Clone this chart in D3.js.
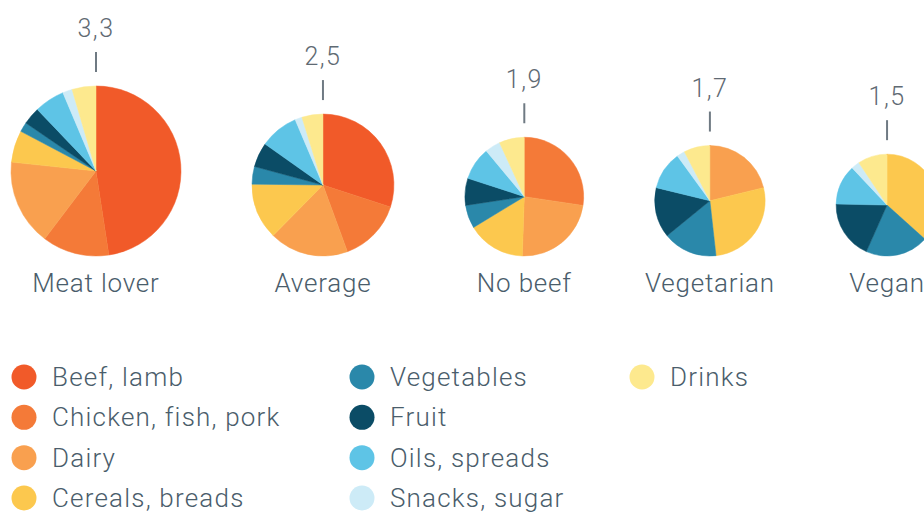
<!DOCTYPE html>
<html>
<head>
<meta charset="utf-8">
<script src="https://cdn.jsdelivr.net/npm/d3@7"></script>
<style>
  body { margin: 0; background: #fff; }
  svg { display: block; font-family: Roboto, "Noto Sans", sans-serif; }
</style>
</head>
<body>
<div id="chart"></div>
<script>
// diets and their footprint (t CO2e per person per year)
const diets = ["Meat lover", "Average", "No beef", "Vegetarian", "Vegan"];
const totals = [3.3, 2.5, 1.9, 1.7, 1.5];
const totalLabels = ["3,3", "2,5", "1,9", "1,7", "1,5"];

// food categories, one array of values per category (one value per diet)
const categories = ["Beef, lamb", "Chicken, fish, pork", "Dairy", "Cereals, breads",
  "Vegetables", "Fruit", "Oils, spreads", "Snacks, sugar", "Drinks"];
const beefLamb = [1.57, 0.75, 0, 0, 0];
const chickenFishPork = [0.42, 0.36, 0.52, 0, 0];
const dairy = [0.54, 0.45, 0.44, 0.36, 0];
const cerealsBreads = [0.2, 0.32, 0.3, 0.46, 0.55];
const vegetables = [0.06, 0.1, 0.12, 0.27, 0.3];
const fruit = [0.11, 0.14, 0.14, 0.25, 0.28];
const oilsSpreads = [0.19, 0.22, 0.17, 0.19, 0.19];
const snacksSugar = [0.06, 0.04, 0.08, 0.04, 0.04];
const drinks = [0.15, 0.12, 0.13, 0.13, 0.14];
const series = [beefLamb, chickenFishPork, dairy, cerealsBreads, vegetables,
  fruit, oilsSpreads, snacksSugar, drinks];

const colors = ["#f15a29", "#f47a38", "#f9a04f", "#fcc84e", "#2a88aa",
  "#0b4c66", "#5ec4e6", "#cdebf7", "#fde98e"];

const width = 924, height = 515;
const baseY = 256;   // pies sit on a common bottom line
const gap = 71;      // space between neighbouring pies
const textColor = "#4a5d6b";

const svg = d3.select("#chart").append("svg")
  .attr("width", width)
  .attr("height", height);

const color = d3.scaleOrdinal().domain(categories).range(colors);
const radius = d3.scalePow().exponent(0.65).domain([0, 3.3]).range([0, 85]);

// horizontal placement: pies packed with a constant gap
let edge = 11;
const layout = diets.map((d, i) => {
  const r = radius(totals[i]);
  const cx = edge + r;
  edge = cx + r + gap;
  return { diet: d, i: i, r: r, cx: cx, cy: baseY - r };
});

const pie = d3.pie().sort(null).value(d => d.value);
const arc = d3.arc().innerRadius(0);

const groups = svg.selectAll("g.diet")
  .data(layout)
  .enter()
  .append("g")
  .attr("class", "diet")
  .attr("transform", d => "translate(" + d.cx + "," + d.cy + ")");

groups.each(function (d) {
  const g = d3.select(this);
  const slices = categories.map((c, k) => ({ cat: c, value: series[k][d.i] }));
  g.selectAll("path")
    .data(pie(slices))
    .enter()
    .append("path")
    .attr("d", s => arc.outerRadius(d.r)(s))
    .attr("fill", s => color(s.data.cat))
    .attr("stroke", s => color(s.data.cat))
    .attr("stroke-width", 0.5);

  // total value with a small tick above the pie
  g.append("line")
    .attr("x1", 0).attr("x2", 0)
    .attr("y1", -d.r - 34).attr("y2", -d.r - 14)
    .attr("stroke", "#6f7a83")
    .attr("stroke-width", 2);

  g.append("text")
    .attr("y", -d.r - 49)
    .attr("text-anchor", "middle")
    .attr("fill", "#5f6a73")
    .style("font-size", "25px")
    .style("font-weight", 300)
    .style("letter-spacing", "1.5px")
    .text(totalLabels[d.i]);

  g.append("text")
    .attr("y", d.r + 36)
    .attr("text-anchor", "middle")
    .attr("fill", textColor)
    .style("font-size", "26px")
    .style("font-weight", 300)
    .style("letter-spacing", "0.8px")
    .text(d.diet);
});

// legend, column by column, four rows each
const legendX = [24, 362, 642];
const legendY = d3.scaleLinear().domain([0, 3]).range([377, 498]);

const legend = svg.append("g")
  .selectAll("g")
  .data(categories)
  .enter()
  .append("g")
  .attr("transform", (d, i) => "translate(" + legendX[Math.floor(i / 4)] + "," + legendY(i % 4) + ")");

legend.append("circle")
  .attr("r", 12.5)
  .attr("fill", d => color(d));

legend.append("text")
  .attr("x", 28)
  .attr("dy", "0.35em")
  .attr("fill", textColor)
  .style("font-size", "26px")
  .style("font-weight", 300)
  .style("letter-spacing", "1.2px")
  .text(d => d);
</script>
</body>
</html>
